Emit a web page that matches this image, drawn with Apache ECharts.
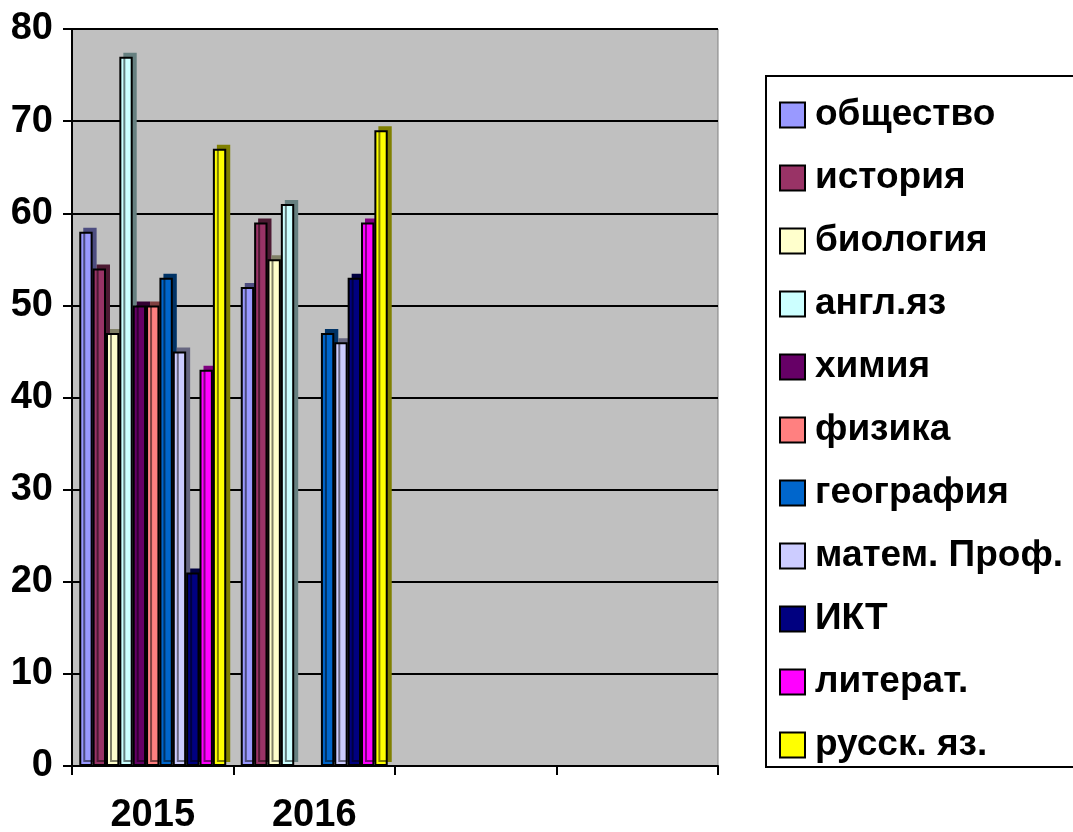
<!DOCTYPE html>
<html><head><meta charset="utf-8">
<script src="https://cdn.jsdelivr.net/npm/echarts@6/dist/echarts.min.js"></script>
<style>html,body{margin:0;padding:0;background:#fff}#c{width:1073px;height:832px}</style>
</head><body><div id="c"></div>
<script>
const categories = ['2015', '2016', '', ''];
const subjects = ['общество', 'история', 'биология', 'англ.яз', 'химия', 'физика', 'география', 'матем. Проф.', 'ИКТ', 'литерат.', 'русск. яз.'];
const obshchestvo = [58, 52];
const istoriya = [54, 59];
const biologiya = [47, 55];
const anglYaz = [77, 61];
const khimiya = [50, null];
const fizika = [50, null];
const geografiya = [53, 47];
const matemProf = [45, 46];
const ikt = [21, 53];
const literat = [43, 59];
const russkYaz = [67, 69];
const yTicks = [0, 10, 20, 30, 40, 50, 60, 70, 80];

const seriesValues = [obshchestvo, istoriya, biologiya, anglYaz, khimiya, fizika, geografiya, matemProf, ikt, literat, russkYaz];
const colors = ['#9999FF', '#993366', '#FFFFCC', '#CCFFFF', '#660066', '#FF8080', '#0066CC', '#CCCCFF', '#000080', '#FF00FF', '#FFFF00'];
const sideColors = ['#4d4d80', '#4d1a33', '#808066', '#668080', '#330033', '#804040', '#003366', '#666680', '#000040', '#800080', '#808000'];

const FONT = '"Liberation Sans", Arial, sans-serif';
const chart = echarts.init(document.getElementById('c'), null, {renderer: 'canvas'});
chart.setOption({
  animation: false,
  backgroundColor: '#ffffff',
  grid: {left: 72, right: 355, top: 29, bottom: 66, containLabel: false, outerBoundsMode: 'none',
    show: true, backgroundColor: '#C0C0C0', borderColor: '#808080', borderWidth: 1},
  legend: {
    orient: 'vertical', left: 766, top: 76,
    data: subjects,
    icon: 'rect', itemWidth: 25, itemHeight: 25, itemGap: 23,
    padding: [19, 60, 2, 13],
    borderColor: '#000', borderWidth: 2,
    textStyle: {fontFamily: FONT, fontWeight: 'bold', fontSize: 37, color: '#000', lineHeight: 40, padding: [0, 0, 0, 5]},
    itemStyle: {borderColor: '#000', borderWidth: 2}
  },
  xAxis: {
    type: 'category', data: categories,
    axisLine: {lineStyle: {color: '#000', width: 2}},
    axisTick: {show: true, length: 9, lineStyle: {color: '#000', width: 2}},
    axisLabel: {fontFamily: FONT, fontWeight: 'bold', fontSize: 38, color: '#000', margin: 31}
  },
  yAxis: {
    type: 'value', min: 0, max: 80, interval: 10,
    axisLine: {show: true, lineStyle: {color: '#000', width: 2}},
    axisTick: {show: true, length: 9, lineStyle: {color: '#000', width: 2}},
    axisLabel: {fontFamily: FONT, fontWeight: 'bold', fontSize: 38, color: '#000', margin: 19,
      formatter: v => yTicks.includes(v) ? String(v) : ''},
    splitLine: {lineStyle: {color: '#000', width: 2}}
  },
  series: subjects.map((name, i) => ({
    name: name, type: 'bar', data: seriesValues[i],
    barGap: '0%', barCategoryGap: '9%',
    itemStyle: {color: colors[i], borderColor: '#000', borderWidth: 2,
      shadowColor: sideColors[i], shadowOffsetX: 4, shadowOffsetY: -4, shadowBlur: 0}
  }))
});
</script></body></html>
